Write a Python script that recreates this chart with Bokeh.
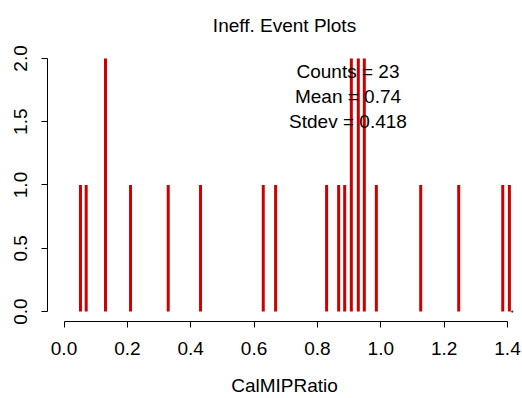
from bokeh.plotting import figure
from bokeh.models import Range1d, FixedTicker, PrintfTickFormatter
from bokeh.core.properties import value
from bokeh.embed import file_html
from bokeh.resources import INLINE

# Data
ratio_values = [0.052, 0.070, 0.131, 0.210, 0.329, 0.431, 0.629, 0.668,
                0.829, 0.867, 0.886, 0.907, 0.929, 0.948, 0.986, 1.126,
                1.246, 1.385, 1.406]
event_counts = [1, 1, 2, 1, 1, 1, 1, 1,
                1, 1, 1, 2, 2, 2, 1, 1,
                1, 1, 1]
zero_point_x = [1.415]
zero_point_y = [0]
x_ticks = [0.0, 0.2, 0.4, 0.6, 0.8, 1.0, 1.2, 1.4]
y_ticks = [0.0, 0.5, 1.0, 1.5, 2.0]
stats_lines = ["Counts = 23", "Mean = 0.74", "Stdev = 0.418"]
stats_y = [1.9, 1.7, 1.5]

FONT = "Liberation Sans"

p = figure(width=522, height=398, output_backend="svg", toolbar_location=None,
           x_range=Range1d(-0.0521, 1.4442), y_range=Range1d(-0.0784, 2.102),
           min_border_left=47, min_border_right=1, min_border_top=45,
           min_border_bottom=75, title="Ineff. Event Plots")

p.outline_line_color = None
p.background_fill_color = "white"
p.border_fill_color = "white"
p.xgrid.visible = False
p.ygrid.visible = False

p.title.text_font = FONT
p.title.text_font_size = "19px"
p.title.text_font_style = "normal"
p.title.align = "center"
p.title.text_color = "black"
p.title.standoff = 19

for ax in (p.xaxis[0], p.yaxis[0]):
    ax.major_label_text_font = FONT
    ax.major_label_text_font_size = "19px"
    ax.major_label_text_color = "black"
    ax.axis_line_color = "black"
    ax.major_tick_line_color = "black"
    ax.major_tick_in = 0
    ax.major_tick_out = 6
    ax.minor_tick_line_color = None
    ax.formatter = PrintfTickFormatter(format="%.1f")

p.xaxis[0].ticker = FixedTicker(ticks=x_ticks)
p.xaxis[0].bounds = (x_ticks[0], x_ticks[-1])
p.xaxis[0].major_label_standoff = 14
p.xaxis[0].axis_label = "CalMIPRatio"
p.xaxis[0].axis_label_text_font = FONT
p.xaxis[0].axis_label_text_font_size = "19px"
p.xaxis[0].axis_label_text_font_style = "normal"
p.xaxis[0].axis_label_text_color = "black"
p.xaxis[0].axis_label_standoff = 17

p.yaxis[0].ticker = FixedTicker(ticks=y_ticks)
p.yaxis[0].bounds = (y_ticks[0], y_ticks[-1])
p.yaxis[0].major_label_orientation = "vertical"
p.yaxis[0].major_label_standoff = 14

p.segment(x0=ratio_values, y0=[0] * len(ratio_values), x1=ratio_values,
          y1=event_counts, line_color="#CD0000", line_width=3, line_cap="butt")

p.scatter(x=zero_point_x, y=zero_point_y, size=1.5, color="#444444")

p.text(x=[0.8965] * len(stats_lines), y=stats_y, text=stats_lines,
       text_font=value(FONT), text_font_size="19px", text_color="black",
       text_align="center", text_baseline="middle")

open("out.html", "w").write(file_html(p, INLINE))
